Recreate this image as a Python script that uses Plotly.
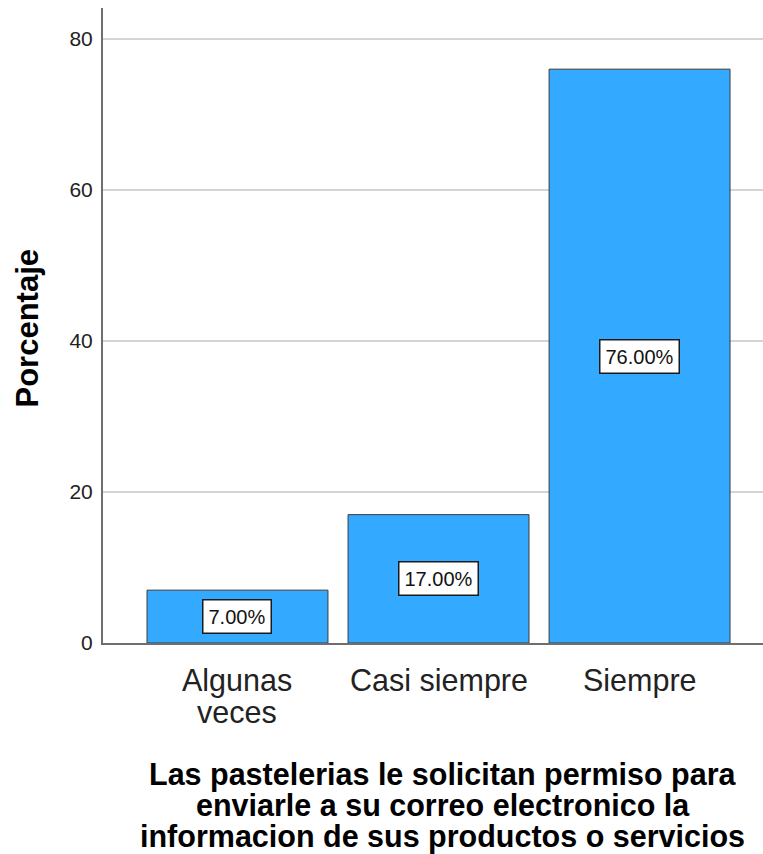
import plotly.graph_objects as go

# Survey responses (percentage of respondents)
categories = ["Algunas veces", "Casi siempre", "Siempre"]
category_lines = [["Algunas", "veces"], ["Casi siempre"], ["Siempre"]]
percentages = [7.0, 17.0, 76.0]
y_ticks = [0, 20, 40, 60, 80]

x_title_lines = [
    "Las pastelerias le solicitan permiso para",
    "enviarle a su correo electronico la",
    "informacion de sus productos o servicios",
]
y_title = "Porcentaje"

FONT = "Liberation Sans, Arial, sans-serif"
BAR_COLOR = "#33aaff"

fig = go.Figure(
    go.Bar(
        x=categories,
        y=percentages,
        width=0.9,
        marker=dict(color=BAR_COLOR, line=dict(color="#3a3a3a", width=1)),
        hoverinfo="skip",
    )
)

annotations = []

# Value labels in white boxes, centred at half the bar height
for cat, val in zip(categories, percentages):
    annotations.append(
        dict(
            x=cat, y=val / 2, xref="x", yref="y",
            text=f"{val:.2f}%", showarrow=False,
            font=dict(family=FONT, size=20, color="#111111"),
            bgcolor="white", bordercolor="#1a1a1a", borderwidth=1.5, borderpad=5,
        )
    )

# Category labels, one annotation per line for tight line spacing
for cat, lines in zip(categories, category_lines):
    for i, line in enumerate(lines):
        annotations.append(
            dict(
                x=cat, y=0, xref="x", yref="paper",
                text=line, showarrow=False,
                xanchor="center", yanchor="middle", yshift=-37 - 32 * i,
                font=dict(family=FONT, size=30.5, color="#222222"),
            )
        )

# X-axis title (bold, three lines)
for i, line in enumerate(x_title_lines):
    annotations.append(
        dict(
            x=0.515, y=0, xref="paper", yref="paper",
            text=f"<b>{line}</b>", showarrow=False,
            xanchor="center", yanchor="middle", yshift=-131 - 31 * i,
            font=dict(family=FONT, size=30.5, color="#000000"),
        )
    )

# Y-axis title
annotations.append(
    dict(
        x=0, y=0.5, xref="paper", yref="paper",
        text=f"<b>{y_title}</b>", showarrow=False, textangle=-90,
        xanchor="center", yanchor="middle", xshift=-76, yshift=-3,
        font=dict(family=FONT, size=31, color="#000000"),
    )
)

fig.update_layout(
    width=763,
    height=854,
    margin=dict(l=103, r=0, t=8, b=211),
    paper_bgcolor="white",
    plot_bgcolor="white",
    showlegend=False,
    annotations=annotations,
    xaxis=dict(
        range=[-0.669, 2.614],
        showticklabels=False,
        ticks="",
        showgrid=False,
        showline=True,
        linecolor="#6e6e6e",
        linewidth=2,
        zeroline=False,
        fixedrange=True,
    ),
    yaxis=dict(
        range=[0, 84.1],
        tickvals=y_ticks,
        ticktext=[str(t) for t in y_ticks],
        ticks="",
        ticklabelstandoff=4,
        tickfont=dict(family=FONT, size=21, color="#222222"),
        showgrid=True,
        gridcolor="#d4d4d4",
        gridwidth=2,
        showline=True,
        linecolor="#6e6e6e",
        linewidth=2,
        zeroline=False,
        fixedrange=True,
    ),
)

fig.write_html("out.html")
